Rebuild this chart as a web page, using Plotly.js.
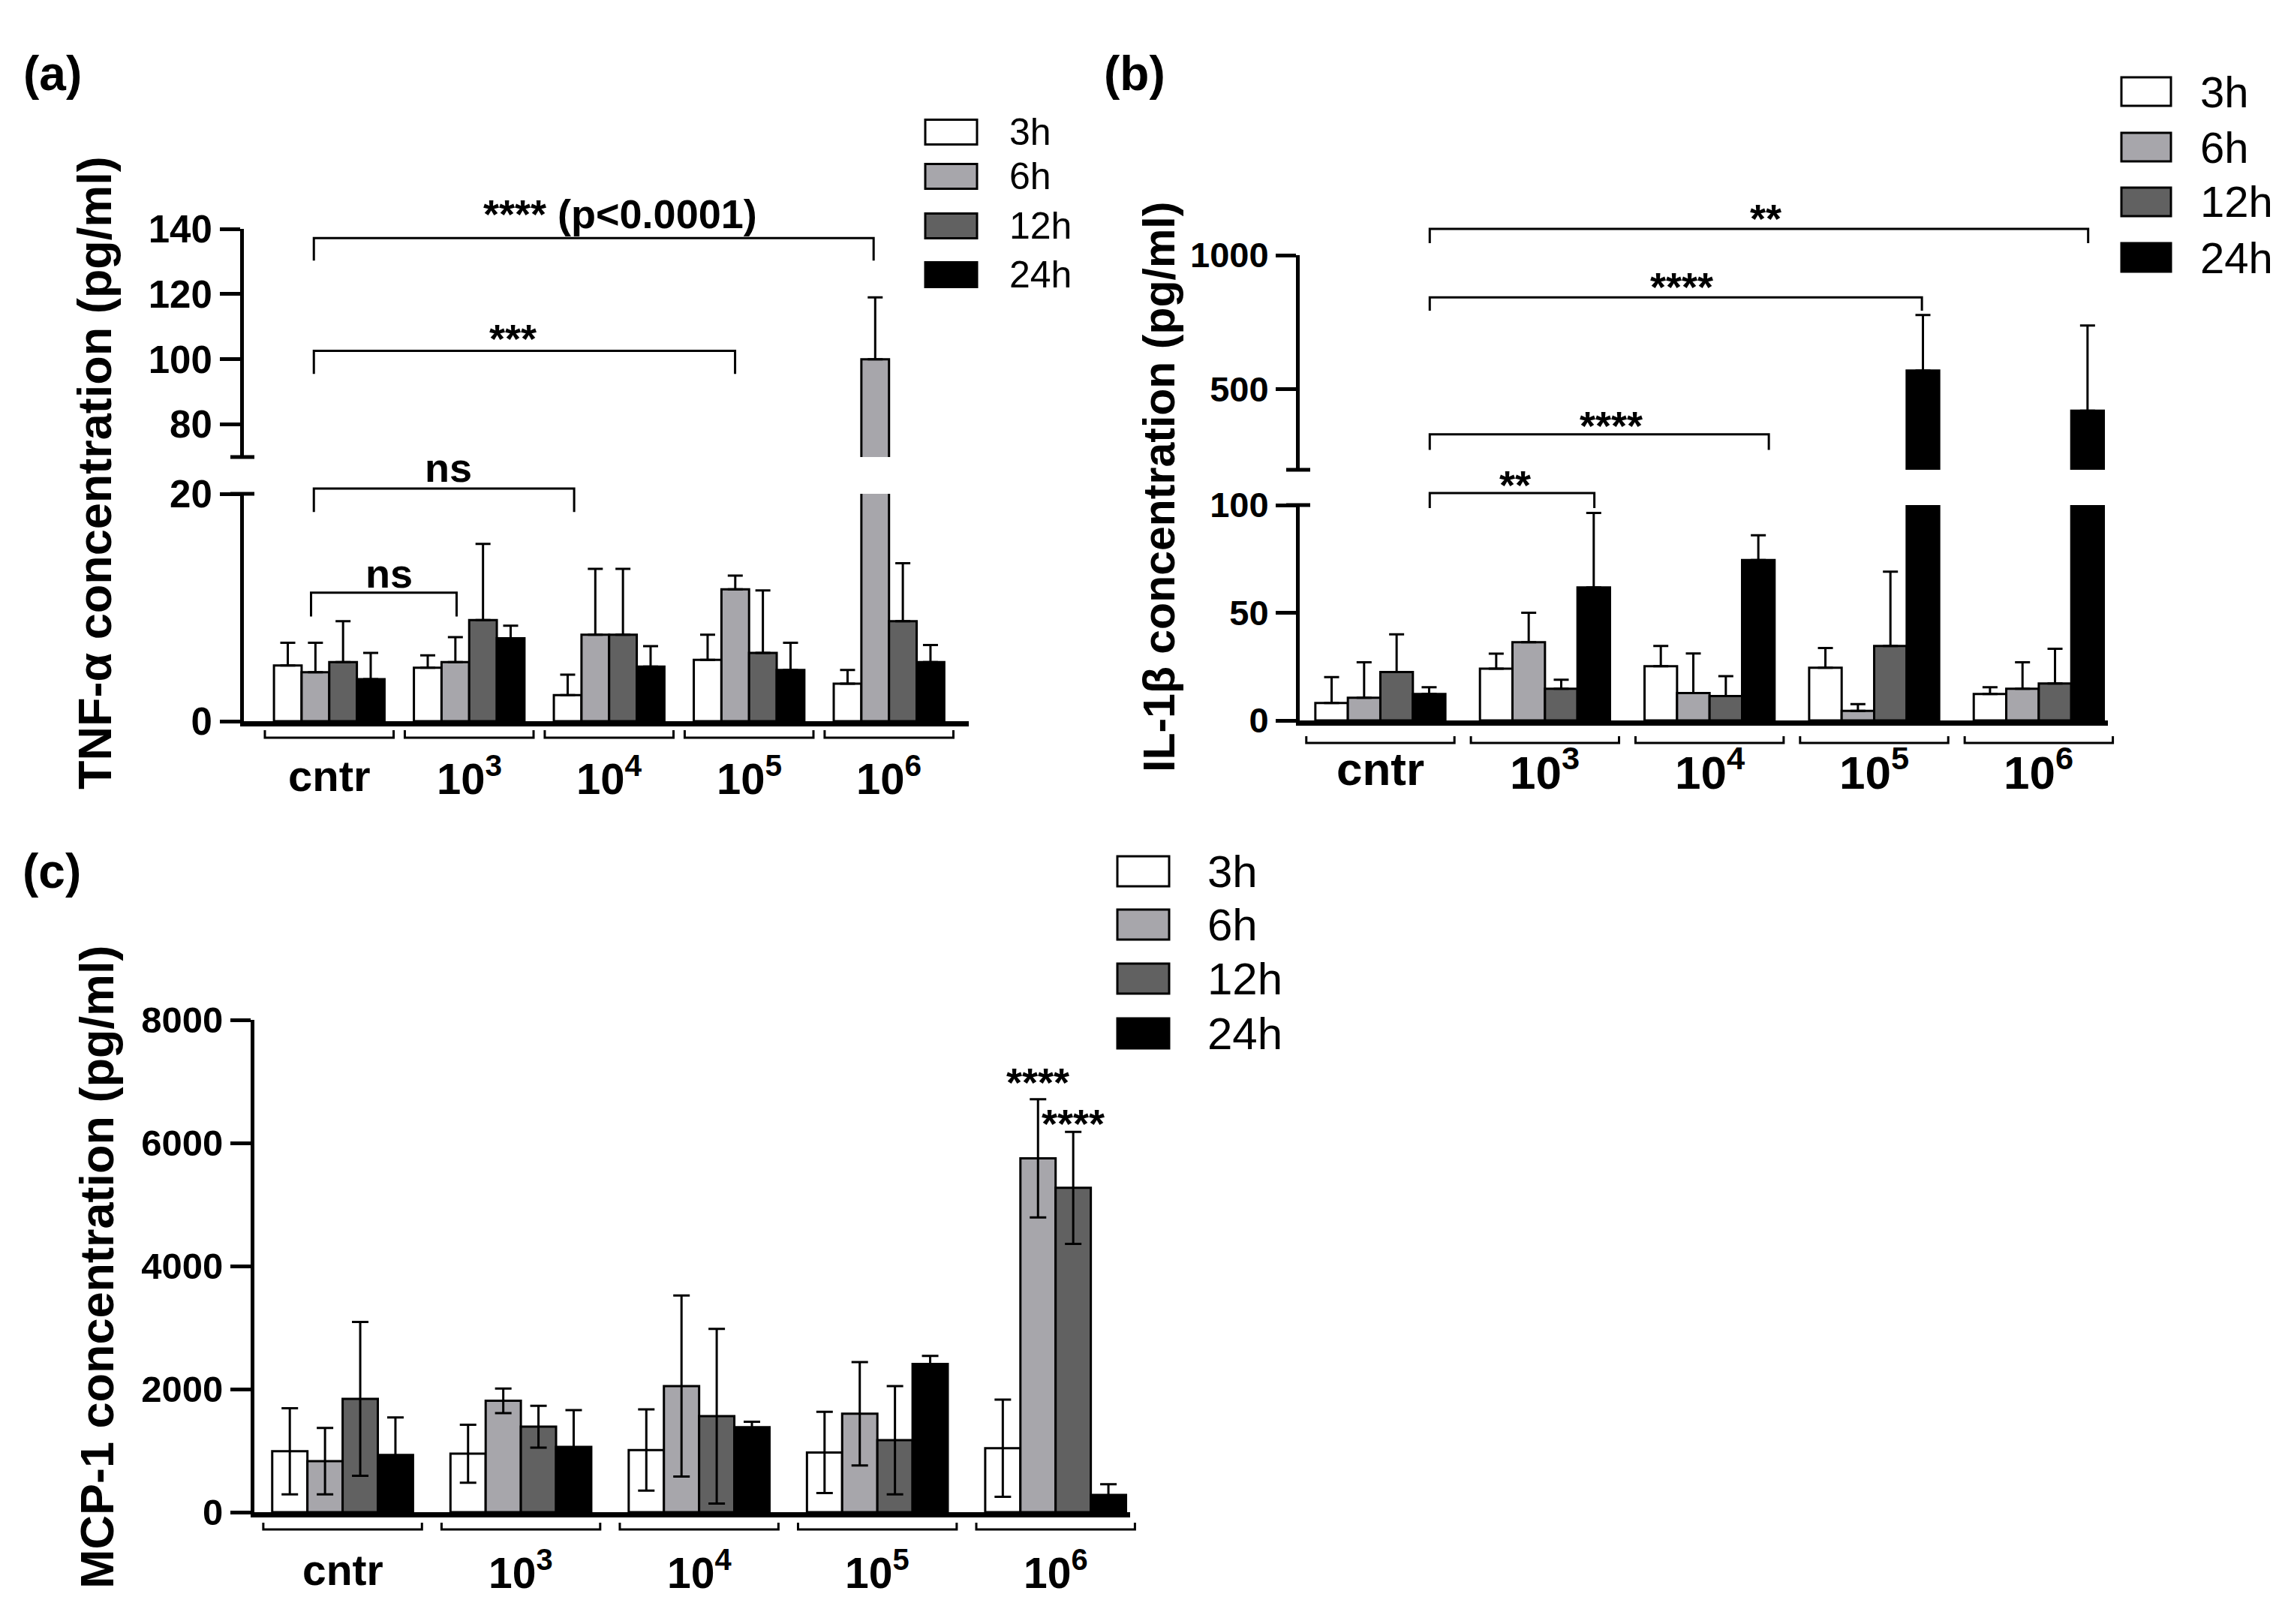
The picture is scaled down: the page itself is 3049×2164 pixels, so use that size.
<!DOCTYPE html>
<html><head><meta charset="utf-8">
<script src="https://cdn.plot.ly/plotly-3.0.1.min.js"></script>
<style>html,body{margin:0;padding:0;background:#fff;overflow:hidden}#chart{width:3049px;height:2164px}</style>
</head><body><div id="chart"></div>
<script>
// ---------- DATA ----------
const categories = ['cntr','10<sup>3</sup>','10<sup>4</sup>','10<sup>5</sup>','10<sup>6</sup>'];
const seriesNames = ['3h','6h','12h','24h'];
const seriesColors = ['#ffffff','#a7a6ab','#616161','#000000'];

// (a) TNF-alpha (pg/ml), mean and SD
const tnf3h  = [4.9, 4.7, 2.3, 5.4, 3.3];
const tnf6h  = [4.3, 5.2, 7.6, 11.6, 100];
const tnf12h = [5.2, 8.9, 7.6, 6.0, 8.8];
const tnf24h = [3.7, 7.3, 4.8, 4.5, 5.2];
const tnf3hSD  = [2.0, 1.1, 1.8, 2.2, 1.2];
const tnf6hSD  = [2.6, 2.2, 5.8, 1.2, 19];
const tnf12hSD = [3.6, 6.7, 5.8, 5.5, 5.1];
const tnf24hSD = [2.3, 1.1, 1.8, 2.4, 1.5];

// (b) IL-1beta (pg/ml)
const il3h  = [8.1, 24, 25.2, 24.5, 12.3];
const il6h  = [10.5, 36.3, 12.7, 4.4, 14.7];
const il12h = [22.5, 14.7, 11.3, 34.6, 17.2];
const il24h = [12.3, 61.8, 74.5, 570, 420];
const il3hSD  = [12, 7, 9.4, 9.1, 3.1];
const il6hSD  = [16.5, 13.7, 18.4, 3.2, 12.3];
const il12hSD = [17.5, 4.2, 9.3, 34.5, 16.1];
const il24hSD = [3.1, 34.5, 11.5, 207, 318];

// (c) MCP-1 (pg/ml)
const mcp3h  = [990, 950, 1010, 970, 1040];
const mcp6h  = [830, 1810, 2050, 1600, 5750];
const mcp12h = [1840, 1390, 1560, 1170, 5270];
const mcp24h = [930, 1060, 1380, 2410, 280];
const mcp3hSD  = [700, 470, 660, 660, 790];
const mcp6hSD  = [540, 200, 1470, 840, 960];
const mcp12hSD = [1250, 340, 1420, 880, 910];
const mcp24hSD = [610, 600, 90, 130, 175];

// Y tick labels
const tnfTicksLow = [0, 20], tnfTicksUp = [80, 100, 120, 140];
const ilTicksLow = [0, 50, 100], ilTicksUp = [500, 1000];
const mcpTicks = [0, 2000, 4000, 6000, 8000];

// Significance annotations (x in group units, y in data units)
const sigA = [
  {x0:-0.13, x1:0.91, y:11.3, leg:9.2, sub:0, text:'ns', tx:0.43, ty:12.7, kind:'ns'},
  {x0:-0.11, x1:1.75, y:20.46, leg:18.4, sub:0, text:'ns', tx:0.85, ty:22.0, kind:'ns'},
  {x0:-0.11, x1:2.90, y:102.6, leg:95.5, sub:1, text:'***', tx:1.31, ty:108.2, kind:'star'},
  {x0:-0.11, x1:3.89, y:137.2, leg:130.3, sub:1, text:'**** (p<0.0001)', tx:2.08, ty:145.2, kind:'mixed'}
];
const sigB = [
  {x0:0.30, x1:1.30, y:105.6, leg:98.6, sub:0, text:'**', tx:0.82, ty:112.2, kind:'star'},
  {x0:0.30, x1:2.36, y:332, leg:274, sub:1, text:'****', tx:1.40, ty:388, kind:'star'},
  {x0:0.30, x1:3.29, y:843, leg:793, sub:1, text:'****', tx:1.83, ty:904, kind:'star'},
  {x0:0.30, x1:4.30, y:1098, leg:1045, sub:1, text:'**', tx:2.34, ty:1160, kind:'star'}
];
const sigC = [
  {text:'****', tx:3.90, ty:7085, kind:'star'},
  {text:'****', tx:4.10, ty:6415, kind:'star'}
];

// ---------- LAYOUT ----------
const W = 3049, H = 2164;
const FONT = 'Liberation Sans, Arial, Helvetica, sans-serif';
const groupIdx = categories.map((c, i) => i);

const panels = [
  {id:'a', xa:'x', xr:[-0.61, 4.57], xpx:[325, 1291],
   subs:[{ya:'y', r:[0,20], px:[961,658], tv:tnfTicksLow}, {ya:'y2', r:[70,140], px:[609,305], tv:tnfTicksUp}],
   means:[tnf3h,tnf6h,tnf12h,tnf24h], sds:[tnf3hSD,tnf6hSD,tnf12hSD,tnf24hSD], oneSided:true,
   tickSize:51, catSize:58, catY:1034, brOff:22, brLeg:10, brHalf:0.46,
   title:'TNF-α concentration (pg/ml)', titleX:126, titleY:630, titleSize:63,
   label:'(a)', labelX:70, labelY:98, sig:sigA, sigSize:54,
   leg:{bx0:1233, bx1:1302, tx:1343, rows:[176,235,301,366], bh:33, fs:50}},
  {id:'b', xa:'x2', xr:[-0.49, 4.42], xpx:[1732, 2809],
   subs:[{ya:'y3', r:[0,100], px:[960,673], tv:ilTicksLow}, {ya:'y4', r:[200,1000], px:[626,340], tv:ilTicksUp}],
   means:[il3h,il6h,il12h,il24h], sds:[il3hSD,il6hSD,il12hSD,il24hSD], oneSided:true,
   tickSize:47, catSize:62, catY:1025, brOff:30, brLeg:9, brHalf:0.45,
   title:'IL-1β concentration (pg/ml)', titleX:1545, titleY:649, titleSize:59,
   label:'(b)', labelX:1512, labelY:98, sig:sigB, sigSize:54,
   leg:{bx0:2827, bx1:2893, tx:2930, rows:[122,196,269,343], bh:38, fs:58}},
  {id:'c', xa:'x3', xr:[-0.495, 4.418], xpx:[339, 1506],
   subs:[{ya:'y5', r:[0,8000], px:[2015,1359], tv:mcpTicks}],
   means:[mcp3h,mcp6h,mcp12h,mcp24h], sds:[mcp3hSD,mcp6hSD,mcp12hSD,mcp24hSD], oneSided:false,
   tickSize:49, catSize:57, catY:2092, brOff:23, brLeg:9, brHalf:0.445,
   title:'MCP-1 concentration (pg/ml)', titleX:129, titleY:1688, titleSize:63,
   label:'(c)', labelX:69, labelY:1161, sig:sigC, sigSize:54,
   leg:{bx0:1489, bx1:1558, tx:1607, rows:[1161,1232,1304,1377], bh:40, fs:60}}
];

function gx(p, v) { return (p.xpx[0] + (v - p.xr[0]) / (p.xr[1] - p.xr[0]) * (p.xpx[1] - p.xpx[0])) / W; }
function gyPx(s, v) { return s.px[0] - (v - s.r[0]) / (s.r[1] - s.r[0]) * (s.px[0] - s.px[1]); }
function gy(s, v) { return 1 - gyPx(s, v) / H; }
function py(v) { return 1 - v / H; }
function pxx(v) { return v / W; }
function boldFont(size) { return {family:FONT, size:size, weight:'bold', color:'#000'}; }

const traces = [];
const shapes = [];
const annotations = [];
const layout = {
  width: W, height: H, margin: {l:0, r:0, t:0, b:0},
  paper_bgcolor: '#ffffff', plot_bgcolor: 'rgba(0,0,0,0)',
  barmode: 'group', bargap: 0.21, bargroupgap: 0, showlegend: false,
  font: {family: FONT, color: '#000'}
};

panels.forEach(p => {
  const xn = 'xaxis' + p.xa.slice(1);
  layout[xn] = {domain:[p.xpx[0]/W, p.xpx[1]/W], range:p.xr, anchor:p.subs[0].ya,
    showline:true, linewidth:7, linecolor:'#000', ticks:'', showticklabels:false,
    showgrid:false, zeroline:false, fixedrange:true};
  p.subs.forEach(s => {
    const yn = 'yaxis' + s.ya.slice(1);
    layout[yn] = {domain:[1 - s.px[0]/H, 1 - s.px[1]/H], range:s.r, anchor:p.xa,
      showline:true, linewidth:5, linecolor:'#000', ticks:'outside', ticklen:27, tickwidth:5,
      tickcolor:'#000', tickvals:s.tv, ticktext:s.tv.map(String),
      tickfont:boldFont(p.tickSize),
      showgrid:false, zeroline:false, fixedrange:true};
    for (let k = 0; k < 4; k++) {
      const sd = p.sds[k];
      traces.push({
        type:'bar', x:groupIdx, y:p.means[k], name:seriesNames[k],
        xaxis:p.xa, yaxis:s.ya,
        marker:{color:seriesColors[k], line:{color:'#000', width:3}},
        error_y: p.oneSided
          ? {type:'data', symmetric:false, array:sd, arrayminus:sd.map(() => 0), color:'#000', thickness:3, width:10}
          : {type:'data', array:sd, color:'#000', thickness:3, width:11},
        showlegend:false, hoverinfo:'skip'
      });
    }
  });

  // broken-axis caps
  if (p.subs.length > 1) {
    const ax = p.xpx[0] - 2;
    [p.subs[0].px[1], p.subs[1].px[0]].forEach(yy => {
      shapes.push({type:'line', xref:'paper', yref:'paper', x0:pxx(ax-16), x1:pxx(ax+16), y0:py(yy), y1:py(yy), line:{color:'#000', width:5}});
    });
  }

  // group brackets and category labels under x axis
  const base = p.subs[0].px[0];
  categories.forEach((c, i) => {
    const x0 = gx(p, i - p.brHalf), x1 = gx(p, i + p.brHalf);
    const yl = py(base + p.brOff), yt = py(base + p.brOff - p.brLeg);
    shapes.push({type:'path', xref:'paper', yref:'paper', path:`M${x0},${yt} L${x0},${yl} L${x1},${yl} L${x1},${yt}`, line:{color:'#000', width:3}});
    annotations.push({xref:'paper', yref:'paper', x:gx(p, i), y:py(p.catY), text:c, showarrow:false,
      xanchor:'center', yanchor:'middle', font:boldFont(p.catSize)});
  });

  // significance brackets
  p.sig.forEach(b => {
    if (b.x0 !== undefined) {
      const s = p.subs[b.sub];
      const x0 = gx(p, b.x0), x1 = gx(p, b.x1), y0 = gy(s, b.y), yl = gy(s, b.leg);
      shapes.push({type:'path', xref:'paper', yref:'paper', path:`M${x0},${yl} L${x0},${y0} L${x1},${y0} L${x1},${yl}`, line:{color:'#000', width:3}});
    }
    const s2 = p.subs[b.sub || 0];
    const shift = b.kind === 'star' ? -0.15 : (b.kind === 'ns' ? 0.09 : -0.04);
    annotations.push({xref:'paper', yref:'paper', x:gx(p, b.tx), y:gy(s2, b.ty), yshift:shift * p.sigSize,
      text:b.text.replace('<', '&lt;'), showarrow:false, xanchor:'center', yanchor:'middle',
      font:boldFont(p.sigSize)});
  });

  // y-axis title
  annotations.push({xref:'paper', yref:'paper', x:pxx(p.titleX), y:py(p.titleY), text:p.title,
    textangle:-90, showarrow:false, xanchor:'center', yanchor:'middle', font:boldFont(p.titleSize)});
  // panel label
  annotations.push({xref:'paper', yref:'paper', x:pxx(p.labelX), y:py(p.labelY), text:p.label,
    showarrow:false, xanchor:'center', yanchor:'middle', font:boldFont(64)});

  // legend
  const L = p.leg;
  seriesNames.forEach((n, k) => {
    const cy = L.rows[k];
    shapes.push({type:'rect', xref:'paper', yref:'paper', x0:pxx(L.bx0), x1:pxx(L.bx1), y0:py(cy + L.bh/2), y1:py(cy - L.bh/2),
      fillcolor:seriesColors[k], line:{color:'#000', width:3}});
    annotations.push({xref:'paper', yref:'paper', x:pxx(L.tx), y:py(cy), text:n, showarrow:false,
      xanchor:'left', yanchor:'middle', font:{family:FONT, size:L.fs, color:'#000'}});
  });
});

layout.shapes = shapes;
layout.annotations = annotations;

Plotly.newPlot('chart', traces, layout, {displayModeBar:false, staticPlot:true});
</script>
</body></html>
